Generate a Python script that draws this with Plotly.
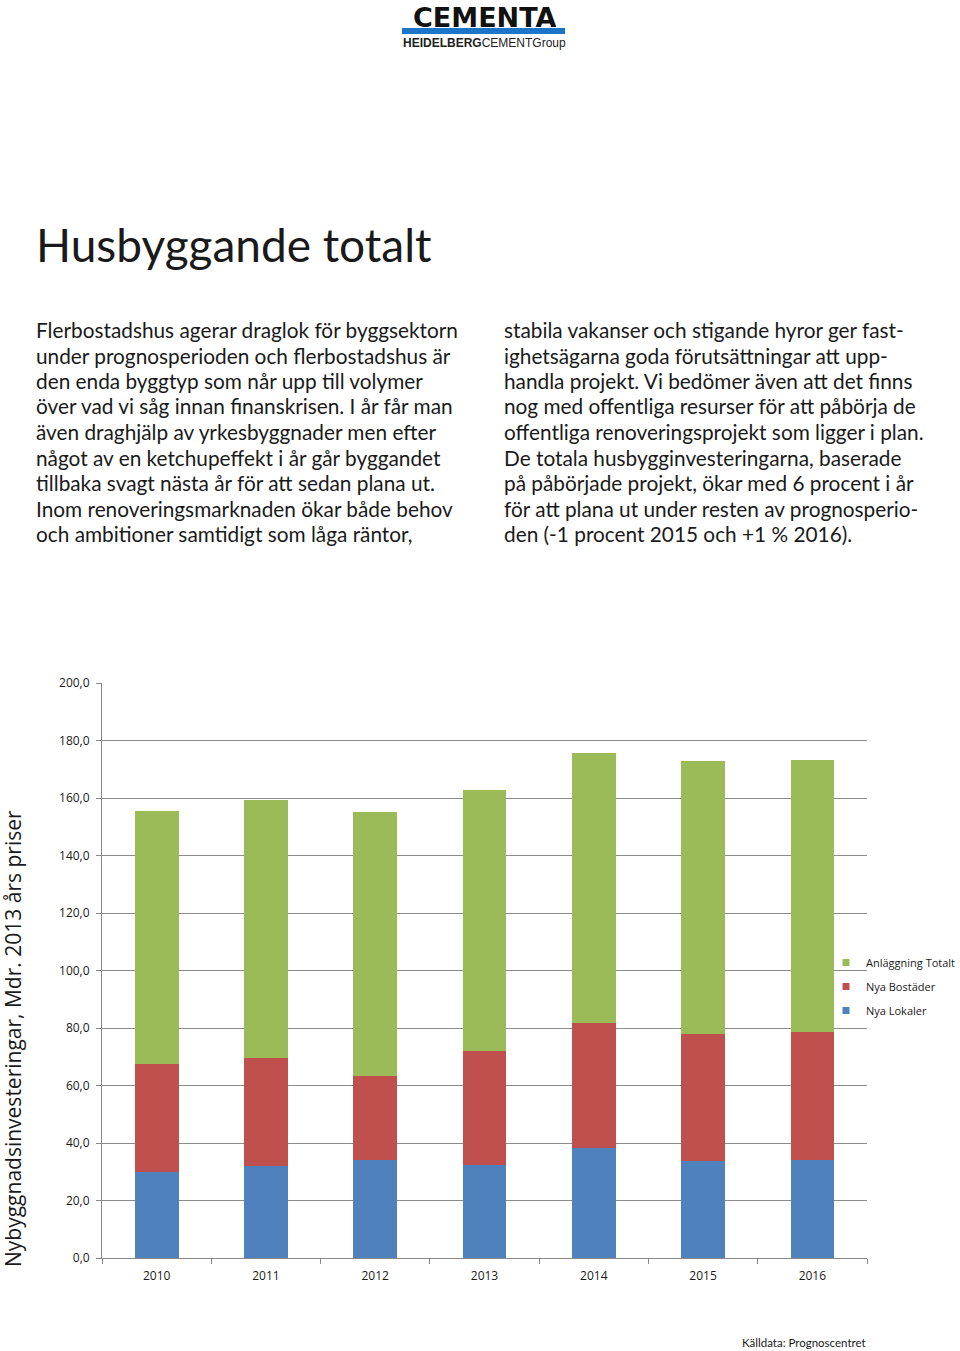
import plotly.graph_objects as go

years = ["2010", "2011", "2012", "2013", "2014", "2015", "2016"]
nya_lokaler = [30.0, 32.0, 34.1, 32.3, 38.3, 33.7, 34.1]
nya_bostader = [37.5, 37.6, 29.2, 39.7, 43.3, 44.1, 44.6]
anlaggning_totalt = [88.0, 89.7, 91.8, 90.8, 94.0, 95.0, 94.6]

series_names = ["Nya Lokaler", "Nya Bostäder", "Anläggning Totalt"]
series_values = [nya_lokaler, nya_bostader, anlaggning_totalt]
series_colors = ["#4F81BD", "#C0504D", "#9BBB59"]
legend_rank = [3, 2, 1]

title_text = "Husbyggande totalt"
left_lines = [
    "Flerbostadshus agerar draglok för byggsektorn",
    "under prognosperioden och flerbostadshus är",
    "den enda byggtyp som når upp till volymer",
    "över vad vi såg innan finanskrisen. I år får man",
    "även draghjälp av yrkesbyggnader men efter",
    "något av en ketchupeffekt i år går byggandet",
    "tillbaka svagt nästa år för att sedan plana ut.",
    "Inom renoveringsmarknaden ökar både behov",
    "och ambitioner samtidigt som låga räntor,",
]
right_lines = [
    "stabila vakanser och stigande hyror ger fast-",
    "ighetsägarna goda förutsättningar att upp-",
    "handla projekt. Vi bedömer även att det finns",
    "nog med offentliga resurser för att påbörja de",
    "offentliga renoveringsprojekt som ligger i plan.",
    "De totala husbygginvesteringarna, baserade",
    "på påbörjade projekt, ökar med 6 procent i år",
    "för att plana ut under resten av prognosperio-",
    "den (-1 procent 2015 och +1 % 2016).",
]
y_title = "Nybyggnadsinvesteringar, Mdr. 2013 års priser"
source = "Källdata: Prognoscentret"

W, H = 960, 1351


def py(pix):
    return (H - pix) / H


def px(pix):
    return pix / W


fig = go.Figure()
for name, vals, col in zip(series_names, series_values, series_colors):
    fig.add_trace(go.Bar(x=years, y=vals, name=name, marker_color=col,
                         marker_line_width=0, showlegend=False))
for name, col, rk in zip(series_names, series_colors, legend_rank):
    fig.add_trace(go.Scatter(x=[None], y=[None], mode="markers", name=name,
                             legendgroup=name, legendrank=rk,
                             marker=dict(symbol="square", size=7, color=col)))

body_font = "Lato, Open Sans, sans-serif"
ann = []
ann.append(dict(text=title_text, x=px(34), y=py(245), xref="paper", yref="paper",
                xanchor="left", yanchor="middle", showarrow=False,
                font=dict(family=body_font, size=46, color="#1a1a1a")))
for i, line in enumerate(left_lines):
    ann.append(dict(text=line, x=px(34), y=py(329.5 + 25.5 * i), xref="paper", yref="paper",
                    xanchor="left", yanchor="middle", showarrow=False,
                    font=dict(family=body_font, size=20.8, color="#1a1a1a")))
for i, line in enumerate(right_lines):
    ann.append(dict(text=line, x=px(502), y=py(329.5 + 25.5 * i), xref="paper", yref="paper",
                    xanchor="left", yanchor="middle", showarrow=False,
                    font=dict(family=body_font, size=20.8, color="#1a1a1a")))
ann.append(dict(text=y_title, x=px(13), y=py(1039), xref="paper", yref="paper",
                xanchor="center", yanchor="middle", textangle=-90, showarrow=False,
                font=dict(family="Open Sans, sans-serif", size=21, color="#1a1a1a")))
ann.append(dict(text=source, x=px(868), y=py(1342), xref="paper", yref="paper",
                xanchor="right", yanchor="middle", showarrow=False,
                font=dict(family=body_font, size=11.5, color="#1a1a1a")))
# logo
ann.append(dict(text="<b>CEMENTA</b>", x=px(484), y=py(0), xref="paper", yref="paper",
                xanchor="center", yanchor="top", showarrow=False,
                font=dict(family="DejaVu Sans", size=27, color="#111111")))
ann.append(dict(text="<b>HEIDELBERG</b>CEMENTGroup", x=px(484), y=py(43), xref="paper", yref="paper",
                xanchor="center", yanchor="middle", showarrow=False,
                font=dict(family="Liberation Sans Narrow, Liberation Sans", size=12, color="#222222")))

fig.update_layout(
    width=W, height=H, autosize=False,
    margin=dict(l=0, r=0, t=0, b=0, autoexpand=False),
    paper_bgcolor="white", plot_bgcolor="white",
    barmode="stack", bargap=0.6,
    separators=", ",
    annotations=ann,
    shapes=[dict(type="rect", xref="paper", yref="paper", x0=px(402), x1=px(565),
                 y0=py(34), y1=py(28), fillcolor="#1B75C8", line_width=0)],
    legend=dict(x=px(826), y=py(948), xanchor="left", yanchor="top",
                traceorder="grouped", tracegroupgap=5,
                font=dict(family="Open Sans, sans-serif", size=11, color="#1a1a1a"),
                bgcolor="rgba(0,0,0,0)", itemwidth=30),
    xaxis=dict(domain=[px(102), px(867)], type="category",
               showline=True, linecolor="#888888", linewidth=1,
               ticks="outside", ticklen=5, tickcolor="#888888", tickson="boundaries",
               showgrid=False, ticklabelstandoff=7,
               tickfont=dict(family="Open Sans, sans-serif", size=12, color="#1a1a1a")),
    yaxis=dict(domain=[py(1258), py(683)], range=[0, 200], dtick=20,
               tickformat=".1f",
               showline=True, linecolor="#888888", linewidth=1,
               ticks="outside", ticklen=5, tickcolor="#888888",
               showgrid=True, gridcolor="#8c8c8c", gridwidth=1,
               zeroline=False, ticklabelstandoff=4,
               tickfont=dict(family="Open Sans, sans-serif", size=12, color="#1a1a1a")),
)

fig.write_html("out.html")
